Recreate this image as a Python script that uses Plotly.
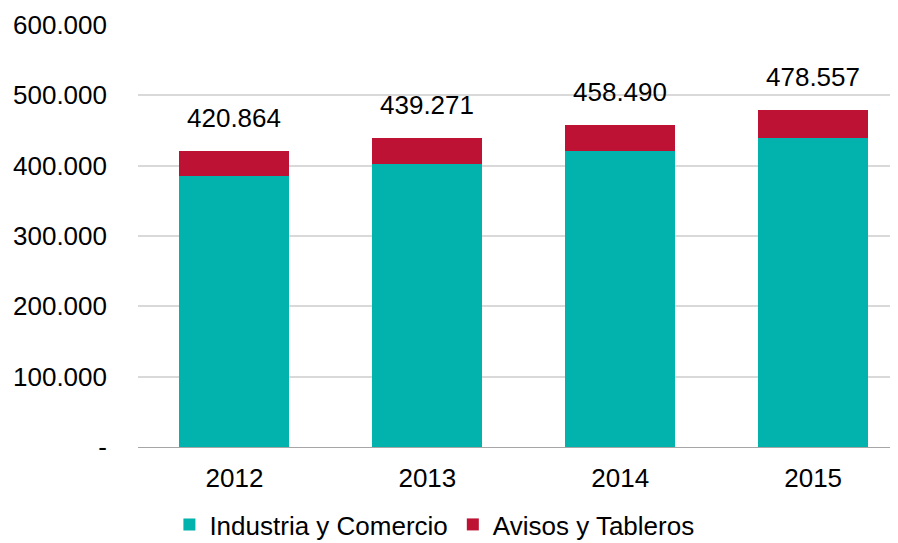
import plotly.graph_objects as go

years = ["2012", "2013", "2014", "2015"]
industria = [385600, 402500, 421300, 439600]
avisos = [35264, 36771, 37190, 38957]
totals = [420864, 439271, 458490, 478557]
total_labels = ["420.864", "439.271", "458.490", "478.557"]

y_ticks = [0, 100000, 200000, 300000, 400000, 500000, 600000]
y_ticktext = ["-", "100.000", "200.000", "300.000", "400.000", "500.000", "600.000"]

FONT = "Liberation Sans, Arial, sans-serif"
TEAL = "#02B2AC"
RED = "#BE1234"
FS = 26

fig = go.Figure()
fig.add_trace(go.Bar(x=years, y=industria, name="Industria y Comercio",
                     marker=dict(color=TEAL, line=dict(width=0))))
fig.add_trace(go.Bar(x=years, y=avisos, name="Avisos y Tableros",
                     marker=dict(color=RED, line=dict(width=0))))

# total labels above each stack (category index, since "2012" would be read as a number)
for i, (tot, lbl) in enumerate(zip(totals, total_labels)):
    fig.add_annotation(x=i, y=tot, xref="x", yref="y", text=lbl,
                       showarrow=False, yshift=33,
                       font=dict(size=FS, color="#000000", family=FONT))

# page body has an 8px margin, so the figure is sized to fit the window
fig.update_layout(
    width=890, height=535,
    barmode="stack", bargap=0.43,
    paper_bgcolor="white", plot_bgcolor="white",
    font=dict(family=FONT, size=FS, color="#000000"),
    margin=dict(l=130, r=0, t=17, b=96, autoexpand=False),
    showlegend=True,
    legend=dict(orientation="h", x=0.39, xanchor="center", y=-0.128, yanchor="top",
                font=dict(size=FS), traceorder="normal", itemwidth=30,
                tracegroupgap=0),
    xaxis=dict(type="category", range=[-0.5, 3.44], automargin=False,
               showline=True, linecolor="#A6A6A6", linewidth=1,
               ticks="", showgrid=False, tickfont=dict(size=FS),
               ticklabelstandoff=8),
    yaxis=dict(range=[0, 600000], tickvals=y_ticks, ticktext=y_ticktext,
               automargin=False, showgrid=True, gridcolor="#D9D9D9", gridwidth=1.5,
               zeroline=False, tickfont=dict(size=FS), ticklabelstandoff=30),
)

fig.write_html("out.html")
